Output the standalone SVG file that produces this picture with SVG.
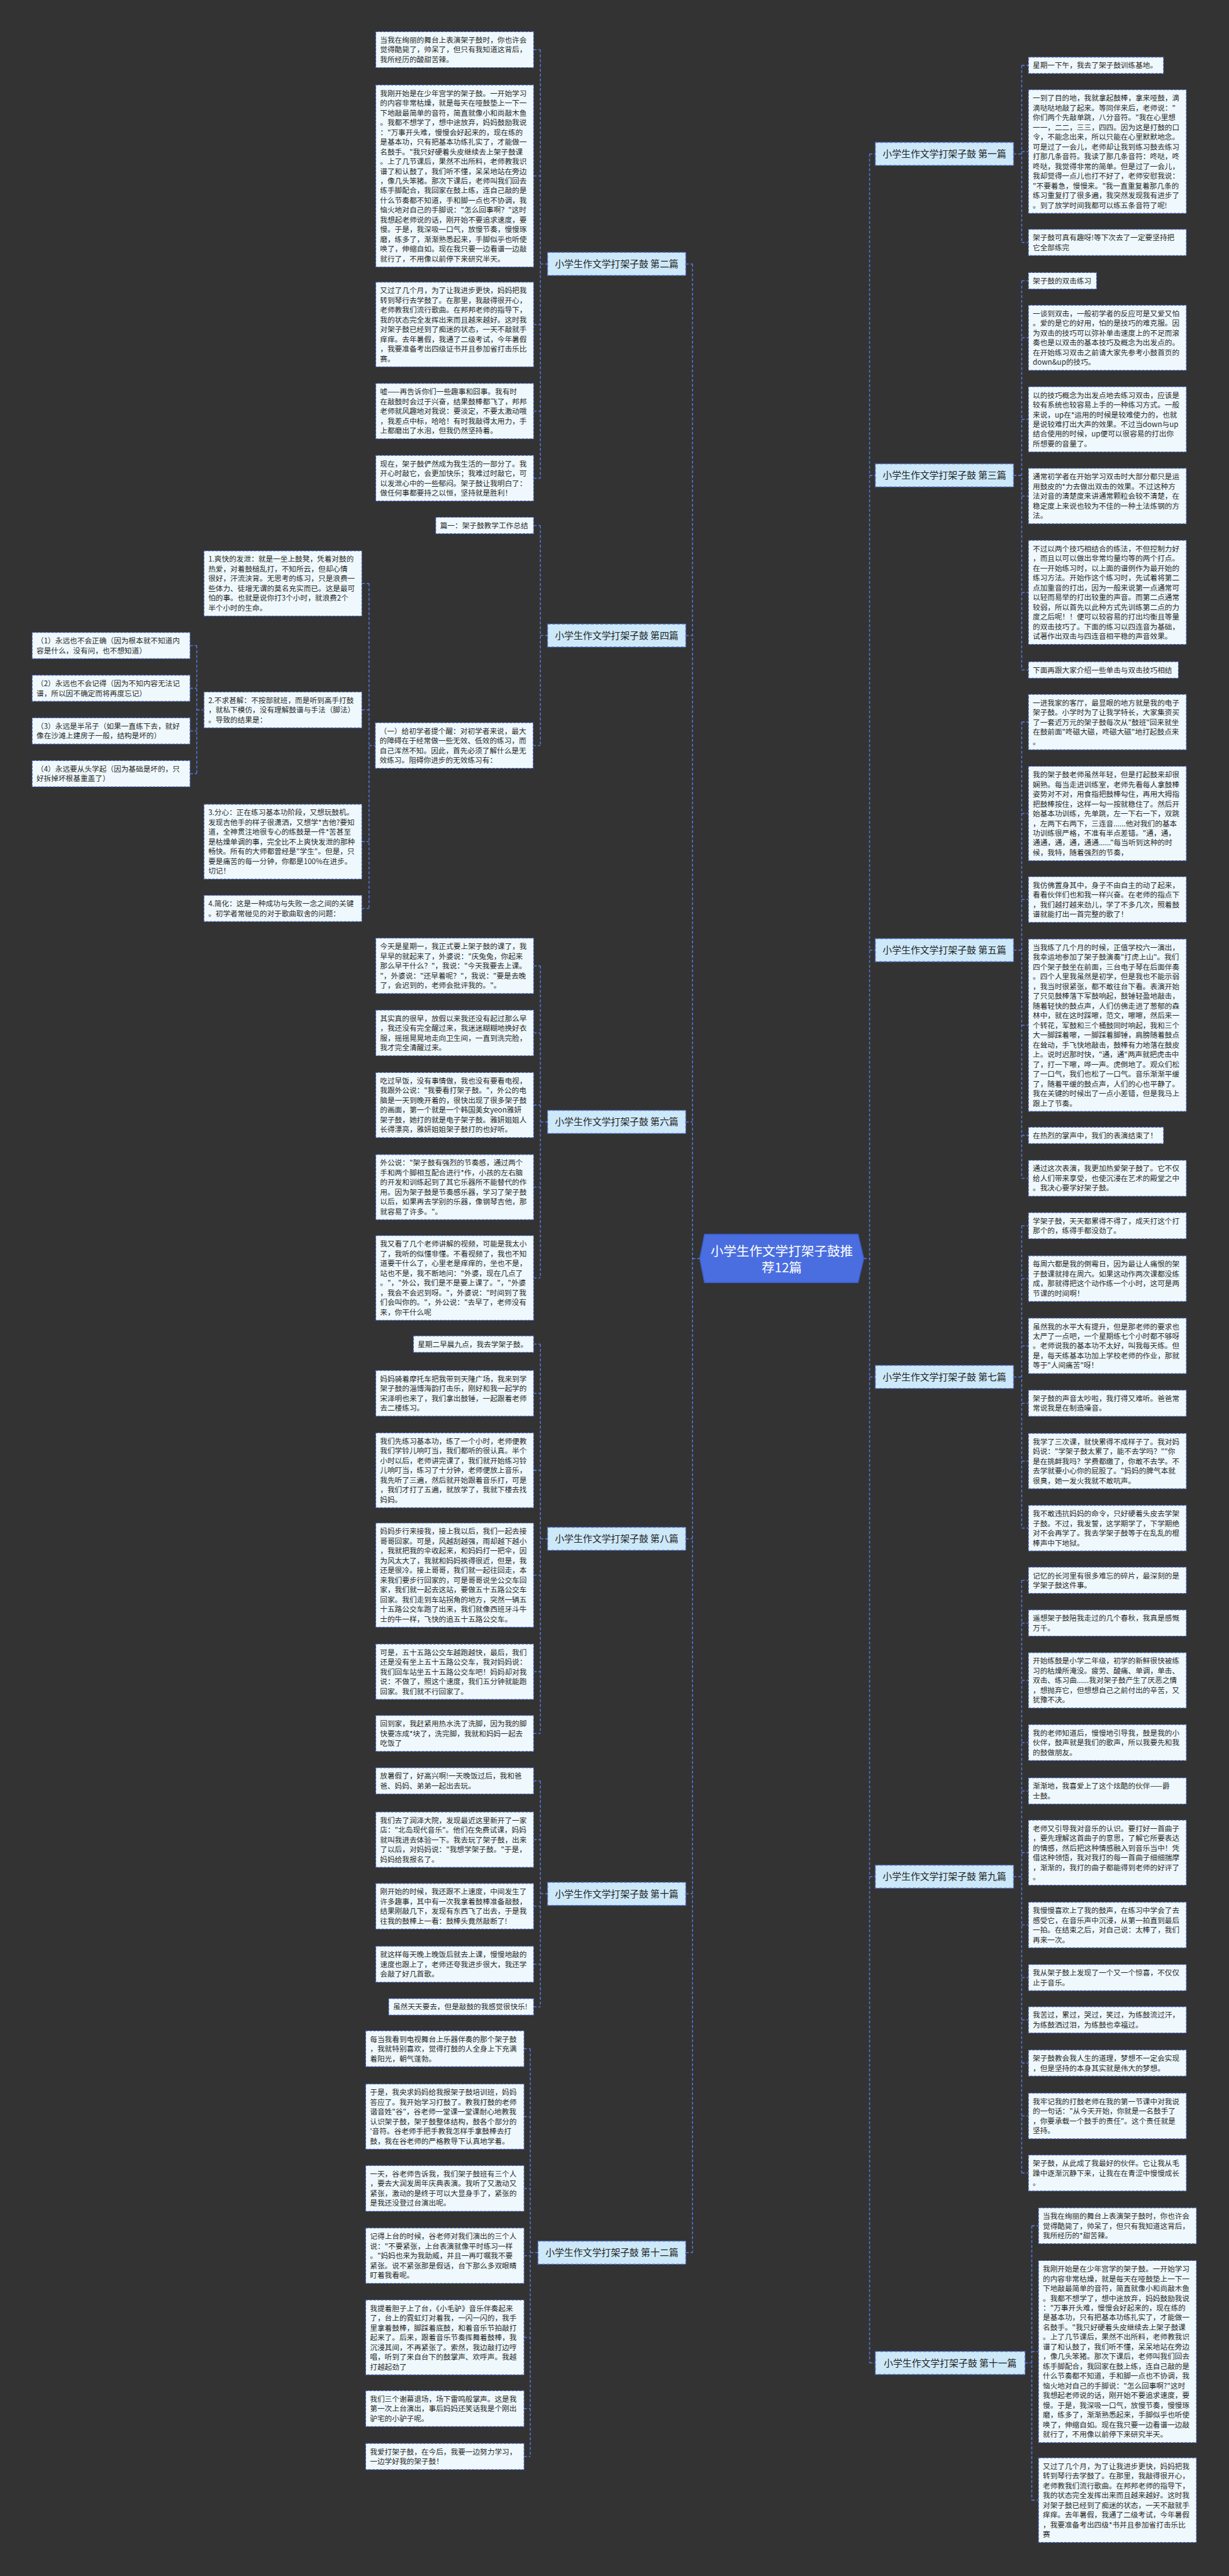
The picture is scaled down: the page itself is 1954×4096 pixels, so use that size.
<svg xmlns="http://www.w3.org/2000/svg" width="1954" height="4096" viewBox="0 0 1954 4096">
<style>
.bx{fill:#eff9fd;stroke:#3c5bbf;stroke-width:1.6;stroke-dasharray:5 3}
.t{font-family:"Noto Sans CJK SC","Noto Sans",sans-serif;font-size:15.3px;fill:#2a2a2a}
.lb{fill:#cde9f9;stroke:#4d6fd8;stroke-width:2;stroke-dasharray:6 4}
.lt{font-family:"Noto Sans CJK SC","Noto Sans",sans-serif;font-size:19.5px;fill:#222;text-anchor:middle}
.cn{fill:none;stroke:#5577dd;stroke-width:2;stroke-dasharray:6 4}
.ct{font-family:"Noto Sans CJK SC","Noto Sans",sans-serif;font-size:27px;fill:#fff;text-anchor:middle}
</style>
<rect x="0" y="0" width="1954" height="4096" fill="#333333"/>
<g transform="scale(0.763)">
<g id="connectors">
<path class="cn" d="M1443 550V4694.4M1429 550H1443M1429 1324.4H1443M1429 2338H1443M1429 3206.8H1443M1429 3946.7H1443M1429 4694.4H1443M1443 2623H1458"/>
<path class="cn" d="M1812 320.7V4924.3M1812 320.7H1824M1812 990.65H1824M1812 1980.1H1824M1812 2869.45H1824M1812 3910.9H1824M1812 4924.3H1824M1800 2623H1812"/>
<path class="cn" d="M1126 103.45V996.6M1112 103.45H1126M1112 366.7H1126M1112 676.2H1126M1112 856.75H1126M1112 996.6H1126M1126 550H1141"/>
<path class="cn" d="M1126 1095.15V1553.6M1112 1095.15H1126M1111 1553.6H1126M1126 1324.4H1141"/>
<path class="cn" d="M769 1215.9V1893.3M754 1215.9H769M754 1479.45H769M754 1754.05H769M754 1893.3H769M769 1553.6H782"/>
<path class="cn" d="M410 1345.3V1612.3M396 1345.3H410M396 1434.3H410M396 1523.3H410M396 1612.3H410M410 1479.45H425"/>
<path class="cn" d="M1126 2012.75V2663.2M1112 2012.75H1126M1112 2152.6H1126M1112 2302.9H1126M1112 2473.9H1126M1112 2663.2H1126M1126 2338H1141"/>
<path class="cn" d="M1126 2801.15V3612.45M1112 2801.15H1126M1112 2903.6H1126M1112 3064.05H1126M1112 3282.5H1126M1112 3483.75H1126M1112 3612.45H1126M1126 3206.8H1141"/>
<path class="cn" d="M1126 3711.3V4182.15M1112 3711.3H1126M1112 3833.75H1126M1112 3972.6H1126M1112 4093.45H1126M1112 4182.15H1126M1126 3946.7H1141"/>
<path class="cn" d="M1105 4269.45V5119.3M1092 4269.45H1105M1092 4410.9H1105M1092 4560.6H1105M1092 4700.75H1105M1092 4871.05H1105M1092 5019.45H1105M1092 5119.3H1105M1105 4694.4H1121"/>
<path class="cn" d="M2129 136.15V505.3M2129 136.15H2143M2129 315.8H2143M2129 505.3H2143M2112 320.7H2129"/>
<path class="cn" d="M2129 585.15V1396.15M2129 585.15H2143M2129 703.9H2143M2129 873.9H2143M2129 1033.75H2143M2129 1234.5H2143M2129 1396.15H2143M2112 990.65H2129"/>
<path class="cn" d="M2129 1504.75V2455.45M2129 1504.75H2143M2129 1695.35H2143M2129 1874.6H2143M2129 2136.55H2143M2129 2366.15H2143M2129 2455.45H2143M2112 1980.1H2129"/>
<path class="cn" d="M2129 2554.3V3184.6M2129 2554.3H2143M2129 2664.6H2143M2129 2804.75H2143M2129 2924.3H2143M2129 3044.75H2143M2129 3184.6H2143M2112 2869.45H2129"/>
<path class="cn" d="M2129 3293.3V4528.45M2129 3293.3H2143M2129 3382.3H2143M2129 3501.75H2143M2129 3631.45H2143M2129 3732.3H2143M2129 3860.9H2143M2129 4011.6H2143M2129 4121.3H2143M2129 4209.3H2143M2129 4299.3H2143M2129 4409.6H2143M2129 4528.45H2143M2112 3910.9H2129"/>
<path class="cn" d="M2150 4638.45V5210.2M2150 4638.45H2164M2150 4900.7H2164M2150 5210.2H2164M2136 4924.3H2150"/>
</g>

<g id="center">
<polygon points="1468,2572 1788,2572 1800,2623 1788,2673 1468,2673 1458,2623" fill="#4a6ee0" stroke="#3b5bc4" stroke-width="2"/>
<text class="ct"><tspan x="1629" y="2617">小学生作文学打架子鼓推</tspan><tspan x="1629" y="2652">荐12篇</tspan></text>
</g>

<g id="label-2"><rect class="lb" x="1141" y="526" width="288" height="48"/><text class="lt" x="1285" y="557">小学生作文学打架子鼓 第二篇</text></g>
<g id="label-4"><rect class="lb" x="1141" y="1300.4" width="288" height="48"/><text class="lt" x="1285" y="1331.4">小学生作文学打架子鼓 第四篇</text></g>
<g id="label-6"><rect class="lb" x="1141" y="2314" width="288" height="48"/><text class="lt" x="1285" y="2345">小学生作文学打架子鼓 第六篇</text></g>
<g id="label-8"><rect class="lb" x="1141" y="3182.8" width="288" height="48"/><text class="lt" x="1285" y="3213.8">小学生作文学打架子鼓 第八篇</text></g>
<g id="label-10"><rect class="lb" x="1141" y="3922.7" width="288" height="48"/><text class="lt" x="1285" y="3953.7">小学生作文学打架子鼓 第十篇</text></g>
<g id="label-12"><rect class="lb" x="1121" y="4670.4" width="308" height="48"/><text class="lt" x="1275" y="4701.4">小学生作文学打架子鼓 第十二篇</text></g>
<g id="label-1"><rect class="lb" x="1824" y="296.7" width="288" height="48"/><text class="lt" x="1968" y="327.7">小学生作文学打架子鼓 第一篇</text></g>
<g id="label-3"><rect class="lb" x="1824" y="966.65" width="288" height="48"/><text class="lt" x="1968" y="997.65">小学生作文学打架子鼓 第三篇</text></g>
<g id="label-5"><rect class="lb" x="1824" y="1956.1" width="288" height="48"/><text class="lt" x="1968" y="1987.1">小学生作文学打架子鼓 第五篇</text></g>
<g id="label-7"><rect class="lb" x="1824" y="2845.45" width="288" height="48"/><text class="lt" x="1968" y="2876.45">小学生作文学打架子鼓 第七篇</text></g>
<g id="label-9"><rect class="lb" x="1824" y="3886.9" width="288" height="48"/><text class="lt" x="1968" y="3917.9">小学生作文学打架子鼓 第九篇</text></g>
<g id="label-11"><rect class="lb" x="1824" y="4900.3" width="312" height="48"/><text class="lt" x="1980" y="4931.3">小学生作文学打架子鼓 第十一篇</text></g>

<g id="n2a"><rect class="bx" x="783" y="66" width="329" height="74.9"/><text class="t"><tspan x="792" y="89">当我在绚丽的舞台上表演架子鼓时，你也许会</tspan><tspan x="792" dy="20.3">觉得酷毙了，帅呆了，但只有我知道这背后，</tspan><tspan x="792" dy="20.3">我所经历的酸甜苦辣。</tspan></text></g>
<g id="n2b"><rect class="bx" x="783" y="177" width="329" height="379.4"/><text class="t"><tspan x="792" y="200">我刚开始是在少年宫学的架子鼓。一开始学习</tspan><tspan x="792" dy="20.3">的内容非常枯燥，就是每天在哑鼓垫上一下一</tspan><tspan x="792" dy="20.3">下地敲最简单的音符，简直就像小和尚敲木鱼</tspan><tspan x="792" dy="20.3">。我都不想学了，想中途放弃，妈妈鼓励我说</tspan><tspan x="792" dy="20.3">："万事开头难，慢慢会好起来的，现在练的</tspan><tspan x="792" dy="20.3">是基本功，只有把基本功练扎实了，才能做一</tspan><tspan x="792" dy="20.3">名鼓手。"我只好硬着头皮继续去上架子鼓课</tspan><tspan x="792" dy="20.3">。上了几节课后，果然不出所料，老师教我识</tspan><tspan x="792" dy="20.3">谱了和认鼓了，我们听不懂，呆呆地站在旁边</tspan><tspan x="792" dy="20.3">，像几头笨猪。那次下课后，老师叫我们回去</tspan><tspan x="792" dy="20.3">练手脚配合，我回家在鼓上练，连自己敲的是</tspan><tspan x="792" dy="20.3">什么节奏都不知道，手和脚一点也不协调，我</tspan><tspan x="792" dy="20.3">恼火地对自己的手脚说："怎么回事啊？"这时</tspan><tspan x="792" dy="20.3">我想起老师说的话，刚开始不要追求速度，要</tspan><tspan x="792" dy="20.3">慢。于是，我深吸一口气，放慢节奏，慢慢琢</tspan><tspan x="792" dy="20.3">磨，练多了，渐渐熟悉起来，手脚似乎也听使</tspan><tspan x="792" dy="20.3">唤了，伸缩自如。现在我只要一边看谱一边敲</tspan><tspan x="792" dy="20.3">就行了，不用像以前停下来研究半天。</tspan></text></g>
<g id="n2c"><rect class="bx" x="783" y="588" width="329" height="176.4"/><text class="t"><tspan x="792" y="611">又过了几个月，为了让我进步更快，妈妈把我</tspan><tspan x="792" dy="20.3">转到琴行去学鼓了。在那里，我敲得很开心，</tspan><tspan x="792" dy="20.3">老师教我们流行歌曲。在邦邦老师的指导下，</tspan><tspan x="792" dy="20.3">我的状态完全发挥出来而且越来越好。这时我</tspan><tspan x="792" dy="20.3">对架子鼓已经到了痴迷的状态，一天不敲就手</tspan><tspan x="792" dy="20.3">痒痒。去年暑假，我通了二级考试，今年暑假</tspan><tspan x="792" dy="20.3">，我要准备考出四级证书并且参加省打击乐比</tspan><tspan x="792" dy="20.3">赛。</tspan></text></g>
<g id="n2d"><rect class="bx" x="783" y="799" width="329" height="115.5"/><text class="t"><tspan x="792" y="822">嘘——再告诉你们一些趣事和囧事。我有时</tspan><tspan x="792" dy="20.3">在敲鼓时会过于兴奋，结果鼓棒都飞了，邦邦</tspan><tspan x="792" dy="20.3">老师就风趣地对我说：要淡定，不要太激动哦</tspan><tspan x="792" dy="20.3">，我差点中标，哈哈！有时我敲得太用力，手</tspan><tspan x="792" dy="20.3">上都磨出了水泡，但我仍然坚持着。</tspan></text></g>
<g id="n2e"><rect class="bx" x="783" y="949" width="329" height="95.2"/><text class="t"><tspan x="792" y="972">现在，架子鼓俨然成为我生活的一部分了。我</tspan><tspan x="792" dy="20.3">开心时敲它，会更加快乐；我难过时敲它，可</tspan><tspan x="792" dy="20.3">以发泄心中的一些郁闷。架子鼓让我明白了：</tspan><tspan x="792" dy="20.3">做任何事都要持之以恒，坚持就是胜利！</tspan></text></g>

<g id="n4a"><rect class="bx" x="908" y="1078" width="204" height="34.3"/><text class="t"><tspan x="917" y="1101">篇一：架子鼓教学工作总结</tspan></text></g>
<g id="n4b"><rect class="bx" x="782" y="1506" width="329" height="95.2"/><text class="t"><tspan x="791" y="1529">（一）给初学者提个醒：对初学者来说，最大</tspan><tspan x="791" dy="20.3">的障碍在于经常做一些无效、低效的练习，而</tspan><tspan x="791" dy="20.3">自己浑然不知。因此，首先必须了解什么是无</tspan><tspan x="791" dy="20.3">效练习。阻碍你进步的无效练习有：</tspan></text></g>
<g id="n4b1"><rect class="bx" x="425" y="1148" width="329" height="135.8"/><text class="t"><tspan x="434" y="1171">1.爽快的发泄：就是一坐上鼓凳，凭着对鼓的</tspan><tspan x="434" dy="20.3">热爱，对着鼓槌乱打，不知所云，但却心情</tspan><tspan x="434" dy="20.3">很好，汗流浃背。无思考的练习，只是浪费一</tspan><tspan x="434" dy="20.3">些体力、徒增无谓的莫名充实而已。这是最可</tspan><tspan x="434" dy="20.3">怕的事。也就是说你打3个小时，就浪费2个</tspan><tspan x="434" dy="20.3">半个小时的生命。</tspan></text></g>
<g id="n4b2"><rect class="bx" x="425" y="1442" width="329" height="74.9"/><text class="t"><tspan x="434" y="1465">2.不求甚解：不按部就班，而是听到高手打鼓</tspan><tspan x="434" dy="20.3">，就私下模仿，没有理解鼓谱与手法（脚法）</tspan><tspan x="434" dy="20.3">。导致的结果是：</tspan></text></g>
<g id="n4b3"><rect class="bx" x="425" y="1676" width="329" height="156.1"/><text class="t"><tspan x="434" y="1699">3.分心：正在练习基本功阶段，又想玩鼓机。</tspan><tspan x="434" dy="20.3">发现吉他手的样子很潇洒，又想学*吉他?要知</tspan><tspan x="434" dy="20.3">道，全神贯注地很专心的练鼓是一件*苦甚至</tspan><tspan x="434" dy="20.3">是枯燥单调的事，完全比不上爽快发泄的那种</tspan><tspan x="434" dy="20.3">畅快。所有的大师都曾经是"学生"。但是，只</tspan><tspan x="434" dy="20.3">要是痛苦的每一分钟，你都是100%在进步。</tspan><tspan x="434" dy="20.3">切记！</tspan></text></g>
<g id="n4b4"><rect class="bx" x="425" y="1866" width="329" height="54.6"/><text class="t"><tspan x="434" y="1889">4.简化：这是一种成功与失败一念之间的关键</tspan><tspan x="434" dy="20.3">。初学者常碰见的对于歌曲取舍的问题：</tspan></text></g>
<g id="n4p1"><rect class="bx" x="67" y="1318" width="329" height="54.6"/><text class="t"><tspan x="76" y="1341">（1）永远也不会正确（因为根本就不知道内</tspan><tspan x="76" dy="20.3">容是什么，没有问，也不想知道）</tspan></text></g>
<g id="n4p2"><rect class="bx" x="67" y="1407" width="329" height="54.6"/><text class="t"><tspan x="76" y="1430">（2）永远也不会记得（因为不知内容无法记</tspan><tspan x="76" dy="20.3">谱，所以因不确定而将再度忘记）</tspan></text></g>
<g id="n4p3"><rect class="bx" x="67" y="1496" width="329" height="54.6"/><text class="t"><tspan x="76" y="1519">（3）永远是半吊子（如果一直练下去，就好</tspan><tspan x="76" dy="20.3">像在沙滩上建房子一般，结构是坏的）</tspan></text></g>
<g id="n4p4"><rect class="bx" x="67" y="1585" width="329" height="54.6"/><text class="t"><tspan x="76" y="1608">（4）永远要从头学起（因为基础是坏的，只</tspan><tspan x="76" dy="20.3">好拆掉坏根基重盖了）</tspan></text></g>

<g id="n6a"><rect class="bx" x="783" y="1955" width="329" height="115.5"/><text class="t"><tspan x="792" y="1978">今天是星期一，我正式要上架子鼓的课了，我</tspan><tspan x="792" dy="20.3">早早的就起来了，外婆说："庆兔兔，你起来</tspan><tspan x="792" dy="20.3">那么早干什么？"，我说："今天我要去上课。</tspan><tspan x="792" dy="20.3">"，外婆说："还早着呢？"，我说："要是去晚</tspan><tspan x="792" dy="20.3">了，会迟到的，老师会批评我的。"。</tspan></text></g>
<g id="n6b"><rect class="bx" x="783" y="2105" width="329" height="95.2"/><text class="t"><tspan x="792" y="2128">其实真的很早，放假以来我还没有起过那么早</tspan><tspan x="792" dy="20.3">，我还没有完全醒过来，我迷迷糊糊地换好衣</tspan><tspan x="792" dy="20.3">服，摇摇晃晃地走向卫生间，一直到洗完脸，</tspan><tspan x="792" dy="20.3">我才完全清醒过来。</tspan></text></g>
<g id="n6c"><rect class="bx" x="783" y="2235" width="329" height="135.8"/><text class="t"><tspan x="792" y="2258">吃过早饭，没有事情做，我也没有要看电视，</tspan><tspan x="792" dy="20.3">我跟外公说："我要看打架子鼓。"，外公的电</tspan><tspan x="792" dy="20.3">脑是一天到晚开着的，很快出现了很多架子鼓</tspan><tspan x="792" dy="20.3">的画面，第一个就是一个韩国美女yeon雅妍</tspan><tspan x="792" dy="20.3">架子鼓，她打的就是电子架子鼓。雅妍姐姐人</tspan><tspan x="792" dy="20.3">长得漂亮，雅妍姐姐架子鼓打的也好听。</tspan></text></g>
<g id="n6d"><rect class="bx" x="783" y="2406" width="329" height="135.8"/><text class="t"><tspan x="792" y="2429">外公说："架子鼓有强烈的节奏感，通过两个</tspan><tspan x="792" dy="20.3">手和两个脚相互配合进行*作，小孩的左右脑</tspan><tspan x="792" dy="20.3">的开发和训练起到了其它乐器所不能替代的作</tspan><tspan x="792" dy="20.3">用。因为架子鼓是节奏感乐器，学习了架子鼓</tspan><tspan x="792" dy="20.3">以后，如果再去学别的乐器，像钢琴吉他，那</tspan><tspan x="792" dy="20.3">就容易了许多。"。</tspan></text></g>
<g id="n6e"><rect class="bx" x="783" y="2575" width="329" height="176.4"/><text class="t"><tspan x="792" y="2598">我又看了几个老师讲解的视频，可能是我太小</tspan><tspan x="792" dy="20.3">了，我听的似懂非懂。不看视频了，我也不知</tspan><tspan x="792" dy="20.3">道要干什么了，心里老是痒痒的，坐也不是，</tspan><tspan x="792" dy="20.3">站也不是，我不断地问："外婆，现在几点了</tspan><tspan x="792" dy="20.3">。"，"外公，我们是不是要上课了。"，"外婆</tspan><tspan x="792" dy="20.3">，我会不会迟到呀。"，外婆说："时间到了我</tspan><tspan x="792" dy="20.3">们会叫你的。"，外公说："去早了，老师没有</tspan><tspan x="792" dy="20.3">来，你干什么呢</tspan></text></g>

<g id="n8a"><rect class="bx" x="861.5" y="2784" width="250.5" height="34.3"/><text class="t"><tspan x="870.5" y="2807">星期二早晨九点，我去学架子鼓。</tspan></text></g>
<g id="n8b"><rect class="bx" x="783" y="2856" width="329" height="95.2"/><text class="t"><tspan x="792" y="2879">妈妈骑着摩托车把我带到天隆广场，我来到学</tspan><tspan x="792" dy="20.3">架子鼓的淄博海韵打击乐，刚好和我一起学的</tspan><tspan x="792" dy="20.3">宋泽明也来了，我们拿出鼓锤，一起跟着老师</tspan><tspan x="792" dy="20.3">去二楼练习。</tspan></text></g>
<g id="n8c"><rect class="bx" x="783" y="2986" width="329" height="156.1"/><text class="t"><tspan x="792" y="3009">我们先练习基本功，练了一个小时，老师便教</tspan><tspan x="792" dy="20.3">我们学铃儿响叮当，我们都听的很认真。半个</tspan><tspan x="792" dy="20.3">小时以后，老师讲完课了，我们就开始练习铃</tspan><tspan x="792" dy="20.3">儿响叮当，练习了十分钟，老师便放上音乐，</tspan><tspan x="792" dy="20.3">我先听了三遍，然后就开始跟着音乐打，可是</tspan><tspan x="792" dy="20.3">，我们才打了五遍，就放学了，我就下楼去找</tspan><tspan x="792" dy="20.3">妈妈。</tspan></text></g>
<g id="n8d"><rect class="bx" x="783" y="3174" width="329" height="217"/><text class="t"><tspan x="792" y="3197">妈妈步行来接我，接上我以后，我们一起去接</tspan><tspan x="792" dy="20.3">哥哥回家。可是，风越刮越强，雨却越下越小</tspan><tspan x="792" dy="20.3">，我就把我的伞收起来，和妈妈打一把伞，因</tspan><tspan x="792" dy="20.3">为风太大了，我就和妈妈挨得很近，但是，我</tspan><tspan x="792" dy="20.3">还是很冷。接上哥哥，我们就一起往回走，本</tspan><tspan x="792" dy="20.3">来我们要步行回家的，可是哥哥说坐公交车回</tspan><tspan x="792" dy="20.3">家，我们就一起去这站，要做五十五路公交车</tspan><tspan x="792" dy="20.3">回家。我们走到车站拐角的地方，突然一辆五</tspan><tspan x="792" dy="20.3">十五路公交车跑了出来，我们就像西班牙斗牛</tspan><tspan x="792" dy="20.3">士的牛一样，飞快的追五十五路公交车。</tspan></text></g>
<g id="n8e"><rect class="bx" x="783" y="3426" width="329" height="115.5"/><text class="t"><tspan x="792" y="3449">可是，五十五路公交车越跑越快，最后，我们</tspan><tspan x="792" dy="20.3">还是没有坐上五十五路公交车，我对妈妈说：</tspan><tspan x="792" dy="20.3">我们回车站坐五十五路公交车吧！妈妈却对我</tspan><tspan x="792" dy="20.3">说：不做了，照这个速度，我们五分钟就能跑</tspan><tspan x="792" dy="20.3">回家。我们就不行回家了。</tspan></text></g>
<g id="n8f"><rect class="bx" x="783" y="3575" width="329" height="74.9"/><text class="t"><tspan x="792" y="3598">回到家，我赶紧用热水洗了洗脚，因为我的脚</tspan><tspan x="792" dy="20.3">快要冻成*块了，洗完脚，我就和妈妈一起去</tspan><tspan x="792" dy="20.3">吃饭了</tspan></text></g>

<g id="n10a"><rect class="bx" x="783" y="3684" width="329" height="54.6"/><text class="t"><tspan x="792" y="3707">放暑假了，好高兴啊!一天晚饭过后，我和爸</tspan><tspan x="792" dy="20.3">爸、妈妈、弟弟一起出去玩。</tspan></text></g>
<g id="n10b"><rect class="bx" x="783" y="3776" width="329" height="115.5"/><text class="t"><tspan x="792" y="3799">我们去了润泽大院，发现最近这里新开了一家</tspan><tspan x="792" dy="20.3">店："北岛现代音乐"。他们在免费试课，妈妈</tspan><tspan x="792" dy="20.3">就叫我进去体验一下。我去玩了架子鼓，出来</tspan><tspan x="792" dy="20.3">了以后，对妈妈说："我想学架子鼓。"于是，</tspan><tspan x="792" dy="20.3">妈妈给我报名了。</tspan></text></g>
<g id="n10c"><rect class="bx" x="783" y="3925" width="329" height="95.2"/><text class="t"><tspan x="792" y="3948">刚开始的时候，我还跟不上速度，中间发生了</tspan><tspan x="792" dy="20.3">许多趣事，其中有一次我拿着鼓棒准备敲鼓，</tspan><tspan x="792" dy="20.3">结果刚敲几下，发现有东西飞了出去，于是我</tspan><tspan x="792" dy="20.3">往我的鼓棒上一看：鼓棒头竟然敲断了!</tspan></text></g>
<g id="n10d"><rect class="bx" x="783" y="4056" width="329" height="74.9"/><text class="t"><tspan x="792" y="4079">就这样每天晚上晚饭后就去上课，慢慢地敲的</tspan><tspan x="792" dy="20.3">速度也跟上了，老师还夸我进步很大，我还学</tspan><tspan x="792" dy="20.3">会敲了好几首歌。</tspan></text></g>
<g id="n10e"><rect class="bx" x="810" y="4165" width="302" height="34.3"/><text class="t"><tspan x="819" y="4188">虽然天天要去，但是敲鼓的我感觉很快乐!</tspan></text></g>

<g id="n12a"><rect class="bx" x="762" y="4232" width="330" height="74.9"/><text class="t"><tspan x="771" y="4255">每当我看到电视舞台上乐器伴奏的那个架子鼓</tspan><tspan x="771" dy="20.3">，我就特别喜欢，觉得打鼓的人全身上下充满</tspan><tspan x="771" dy="20.3">着阳光，朝气蓬勃。</tspan></text></g>
<g id="n12b"><rect class="bx" x="762" y="4343" width="330" height="135.8"/><text class="t"><tspan x="771" y="4366">于是，我央求妈妈给我报架子鼓培训班，妈妈</tspan><tspan x="771" dy="20.3">答应了。我开始学习打鼓了。教我打鼓的老师</tspan><tspan x="771" dy="20.3">谐音姓"谷"，谷老师一堂课一堂课耐心地教我</tspan><tspan x="771" dy="20.3">认识架子鼓，架子鼓整体结构，鼓各个部分的</tspan><tspan x="771" dy="20.3">'音符。谷老师手把手教我怎样手拿鼓棒去打</tspan><tspan x="771" dy="20.3">鼓，我在谷老师的严格教导下认真地学着。</tspan></text></g>
<g id="n12c"><rect class="bx" x="762" y="4513" width="330" height="95.2"/><text class="t"><tspan x="771" y="4536">一天，谷老师告诉我，我们架子鼓班有三个人</tspan><tspan x="771" dy="20.3">，要去大润发周年庆典表演。我听了又激动又</tspan><tspan x="771" dy="20.3">紧张，激动的是终于可以大显身手了，紧张的</tspan><tspan x="771" dy="20.3">是我还没登过台演出呢。</tspan></text></g>
<g id="n12d"><rect class="bx" x="762" y="4643" width="330" height="115.5"/><text class="t"><tspan x="771" y="4666">记得上台的时候，谷老师对我们演出的三个人</tspan><tspan x="771" dy="20.3">说："不要紧张，上台表演就像平时练习一样</tspan><tspan x="771" dy="20.3">。"妈妈也来为我助威，并且一再叮嘱我不要</tspan><tspan x="771" dy="20.3">紧张。说不紧张那是假话，台下那么多双眼睛</tspan><tspan x="771" dy="20.3">盯着我看呢。</tspan></text></g>
<g id="n12e"><rect class="bx" x="762" y="4793" width="330" height="156.1"/><text class="t"><tspan x="771" y="4816">我提着胆子上了台，《小毛驴》音乐伴奏起来</tspan><tspan x="771" dy="20.3">了，台上的霓虹灯对着我，一闪一闪的，我手</tspan><tspan x="771" dy="20.3">里拿着鼓棒，脚踩着底鼓，和着音乐节拍敲打</tspan><tspan x="771" dy="20.3">起来了。后来，跟着音乐节奏挥舞着鼓棒，我</tspan><tspan x="771" dy="20.3">沉浸其间，不再紧张了。索然，我边敲打边哼</tspan><tspan x="771" dy="20.3">唱，听到了来自台下的鼓掌声、欢呼声。我越</tspan><tspan x="771" dy="20.3">打越起劲了</tspan></text></g>
<g id="n12f"><rect class="bx" x="762" y="4982" width="330" height="74.9"/><text class="t"><tspan x="771" y="5005">我们三个谢幕退场，场下雷鸣般掌声。这是我</tspan><tspan x="771" dy="20.3">第一次上台演出，事后妈妈还笑话我是个刚出</tspan><tspan x="771" dy="20.3">驴宅的小驴子呢。</tspan></text></g>
<g id="n12g"><rect class="bx" x="762" y="5092" width="330" height="54.6"/><text class="t"><tspan x="771" y="5115">我爱打架子鼓，在今后，我要一边努力学习，</tspan><tspan x="771" dy="20.3">一边学好我的架子鼓！</tspan></text></g>

<g id="n1a"><rect class="bx" x="2143" y="119" width="281.5" height="34.3"/><text class="t"><tspan x="2152" y="142">星期一下午，我去了架子鼓训练基地。</tspan></text></g>
<g id="n1b"><rect class="bx" x="2143" y="187" width="329" height="257.6"/><text class="t"><tspan x="2152" y="210">一到了目的地，我就拿起鼓棒，拿来哑鼓，滴</tspan><tspan x="2152" dy="20.3">滴哒哒地敲了起来。等同伴来后，老师说："</tspan><tspan x="2152" dy="20.3">你们两个先敲单跳，八分音符。"我在心里想</tspan><tspan x="2152" dy="20.3">一一，二二，三三，四四。因为这是打鼓的口</tspan><tspan x="2152" dy="20.3">令，不能念出来，所以只能在心里默默地念。</tspan><tspan x="2152" dy="20.3">可是过了一会儿，老师却让我到练习鼓去练习</tspan><tspan x="2152" dy="20.3">打那几条音符。我读了那几条音符：咚哒，咚</tspan><tspan x="2152" dy="20.3">咚哒，我觉得非常的简单。但是过了一会儿，</tspan><tspan x="2152" dy="20.3">我却觉得一点儿也打不好了，老师安慰我说：</tspan><tspan x="2152" dy="20.3">"不要着急，慢慢来。"我一直重复着那几条的</tspan><tspan x="2152" dy="20.3">练习重复打了很多遍，我突然发现我有进步了</tspan><tspan x="2152" dy="20.3">。到了放学时间我都可以练五条音符了呢!</tspan></text></g>
<g id="n1c"><rect class="bx" x="2143" y="478" width="329" height="54.6"/><text class="t"><tspan x="2152" y="501">架子鼓可真有趣呀!等下次去了一定要坚持把</tspan><tspan x="2152" dy="20.3">它全部练完</tspan></text></g>

<g id="n3a"><rect class="bx" x="2143" y="568" width="142" height="34.3"/><text class="t"><tspan x="2152" y="591">架子鼓的双击练习</tspan></text></g>
<g id="n3b"><rect class="bx" x="2143" y="636" width="329" height="135.8"/><text class="t"><tspan x="2152" y="659">一谈到双击，一般初学者的反应可是又爱又怕</tspan><tspan x="2152" dy="20.3">。爱的是它的好用，怕的是技巧的难克服。因</tspan><tspan x="2152" dy="20.3">为双击的技巧可以弥补单击速度上的不足而滚</tspan><tspan x="2152" dy="20.3">奏也是以双击的基本技巧及概念为出发点的。</tspan><tspan x="2152" dy="20.3">在开始练习双击之前请大家先参考小鼓首页的</tspan><tspan x="2152" dy="20.3">down&amp;up的技巧。</tspan></text></g>
<g id="n3c"><rect class="bx" x="2143" y="806" width="329" height="135.8"/><text class="t"><tspan x="2152" y="829">以的技巧概念为出发点地去练习双击，应该是</tspan><tspan x="2152" dy="20.3">较有系统也较容易上手的一种练习方式。一般</tspan><tspan x="2152" dy="20.3">来说，up在*运用的时候是较难使力的，也就</tspan><tspan x="2152" dy="20.3">是说较难打出大声的效果。不过当down与up</tspan><tspan x="2152" dy="20.3">结合使用的时候，up便可以很容易的打出你</tspan><tspan x="2152" dy="20.3">所想要的音量了。</tspan></text></g>
<g id="n3d"><rect class="bx" x="2143" y="976" width="329" height="115.5"/><text class="t"><tspan x="2152" y="999">通常初学者在开始学习双击时大部分都只是运</tspan><tspan x="2152" dy="20.3">用鼓皮的*力去做出双击的效果。不过这种方</tspan><tspan x="2152" dy="20.3">法对音的清楚度来讲通常颗粒会较不清楚，在</tspan><tspan x="2152" dy="20.3">稳定度上来说也较为不佳的一种土法炼钢的方</tspan><tspan x="2152" dy="20.3">法。</tspan></text></g>
<g id="n3e"><rect class="bx" x="2143" y="1126" width="329" height="217"/><text class="t"><tspan x="2152" y="1149">不过以两个技巧相结合的练法，不但控制力好</tspan><tspan x="2152" dy="20.3">，而且以可以做出非常均量均等的两个打点。</tspan><tspan x="2152" dy="20.3">在一开始练习时，以上面的谱例作为最开始的</tspan><tspan x="2152" dy="20.3">练习方法。开始作这个练习时，先试着将第二</tspan><tspan x="2152" dy="20.3">点加重音的打出，因为一般来说第一点通常可</tspan><tspan x="2152" dy="20.3">以轻而易举的打出较重的声音。而第二点通常</tspan><tspan x="2152" dy="20.3">较弱，所以首先以此种方式先训练第二点的力</tspan><tspan x="2152" dy="20.3">度之后呢！！便可以较容易的打出均衡且等量</tspan><tspan x="2152" dy="20.3">的双击技巧了。下面的练习以四连音为基础，</tspan><tspan x="2152" dy="20.3">试著作出双击与四连音相平稳的声音效果。</tspan></text></g>
<g id="n3f"><rect class="bx" x="2143" y="1379" width="312.5" height="34.3"/><text class="t"><tspan x="2152" y="1402">下面再跟大家介绍一些单击与双击技巧相结</tspan></text></g>

<g id="n5a"><rect class="bx" x="2143" y="1447" width="329" height="115.5"/><text class="t"><tspan x="2152" y="1470">一进我家的客厅，最显眼的地方就是我的电子</tspan><tspan x="2152" dy="20.3">架子鼓。小学时为了让我学特长，大家集资买</tspan><tspan x="2152" dy="20.3">了一套近万元的架子鼓每次从"鼓班"回来就坐</tspan><tspan x="2152" dy="20.3">在鼓前面"咚磁大磁，咚磁大磁"地打起鼓点来</tspan><tspan x="2152" dy="20.3">。</tspan></text></g>
<g id="n5b"><rect class="bx" x="2143" y="1597" width="329" height="196.7"/><text class="t"><tspan x="2152" y="1620">我的架子鼓老师虽然年轻，但是打起鼓来却很</tspan><tspan x="2152" dy="20.3">娴熟。每当走进训练室，老师先看每人拿鼓棒</tspan><tspan x="2152" dy="20.3">姿势对不对，用食指把鼓棒勾住，再用大拇指</tspan><tspan x="2152" dy="20.3">把鼓棒按住，这样一勾一按就稳住了。然后开</tspan><tspan x="2152" dy="20.3">始基本功训练，先单跳，左一下右一下，双跳</tspan><tspan x="2152" dy="20.3">，左两下右两下，三连音......他对我们的基本</tspan><tspan x="2152" dy="20.3">功训练很严格，不准有半点差错。"通，通，</tspan><tspan x="2152" dy="20.3">通通，通，通，通通......"每当听到这种的时</tspan><tspan x="2152" dy="20.3">候，我特，随着强烈的节奏，</tspan></text></g>
<g id="n5c"><rect class="bx" x="2143" y="1827" width="329" height="95.2"/><text class="t"><tspan x="2152" y="1850">我仿佛置身其中，身子不由自主的动了起来，</tspan><tspan x="2152" dy="20.3">看看伙伴们也和我一样兴奋。在老师的指点下</tspan><tspan x="2152" dy="20.3">，我们越打越来劲儿，学了不多几次，照着鼓</tspan><tspan x="2152" dy="20.3">谱就能打出一首完整的歌了！</tspan></text></g>
<g id="n5d"><rect class="bx" x="2143" y="1957" width="329" height="359.1"/><text class="t"><tspan x="2152" y="1980">当我练了几个月的时候，正值学校六一演出，</tspan><tspan x="2152" dy="20.3">我幸运地参加了架子鼓演奏"打虎上山"。我们</tspan><tspan x="2152" dy="20.3">四个架子鼓坐在前面，三台电子琴在后面伴奏</tspan><tspan x="2152" dy="20.3">。四个人里我虽然是初学，但是我也不能示弱</tspan><tspan x="2152" dy="20.3">，我当时很紧张，都不敢往台下看。表演开始</tspan><tspan x="2152" dy="20.3">了只见鼓棒落下军鼓响起，鼓锤轻盈地敲击，</tspan><tspan x="2152" dy="20.3">随着轻快的鼓点声，人们仿佛走进了葱郁的森</tspan><tspan x="2152" dy="20.3">林中，就在这时踩嚓，范文，嚓嚓，然后来一</tspan><tspan x="2152" dy="20.3">个转花，军鼓和三个桶鼓同时响起，我和三个</tspan><tspan x="2152" dy="20.3">大一脚踩着嚓，一脚踩着脚锤，肩膀随着鼓点</tspan><tspan x="2152" dy="20.3">在耸动，手飞快地敲击，鼓棒有力地落在鼓皮</tspan><tspan x="2152" dy="20.3">上。说时迟那时快，"通，通"两声就把虎击中</tspan><tspan x="2152" dy="20.3">了，打一下嚓，哗一声。虎倒地了。观众们松</tspan><tspan x="2152" dy="20.3">了一口气，我们也松了一口气。音乐渐渐平缓</tspan><tspan x="2152" dy="20.3">了，随着平缓的鼓点声，人们的心也平静了。</tspan><tspan x="2152" dy="20.3">我在关键的时候出了一点小差错，但是我马上</tspan><tspan x="2152" dy="20.3">跟上了节奏。</tspan></text></g>
<g id="n5e"><rect class="bx" x="2143" y="2349" width="281.5" height="34.3"/><text class="t"><tspan x="2152" y="2372">在热烈的掌声中，我们的表演结束了！</tspan></text></g>
<g id="n5f"><rect class="bx" x="2143" y="2418" width="329" height="74.9"/><text class="t"><tspan x="2152" y="2441">通过这次表演，我更加热爱架子鼓了。它不仅</tspan><tspan x="2152" dy="20.3">给人们带来享受，也使沉浸在艺术的殿堂之中</tspan><tspan x="2152" dy="20.3">。我决心要学好架子鼓。</tspan></text></g>

<g id="n7a"><rect class="bx" x="2143" y="2527" width="329" height="54.6"/><text class="t"><tspan x="2152" y="2550">学架子鼓，天天都累得不得了，成天打这个打</tspan><tspan x="2152" dy="20.3">那个的，练得手都没劲了。</tspan></text></g>
<g id="n7b"><rect class="bx" x="2143" y="2617" width="329" height="95.2"/><text class="t"><tspan x="2152" y="2640">每周六都是我的倒霉日，因为最让人痛恨的架</tspan><tspan x="2152" dy="20.3">子鼓课就排在周六。如果这动作两次课都没练</tspan><tspan x="2152" dy="20.3">成，那就得把这个动作练一个小时，这可是两</tspan><tspan x="2152" dy="20.3">节课的时间啊！</tspan></text></g>
<g id="n7c"><rect class="bx" x="2143" y="2747" width="329" height="115.5"/><text class="t"><tspan x="2152" y="2770">虽然我的水平大有提升，但是那老师的要求也</tspan><tspan x="2152" dy="20.3">太严了一点吧，一个星期练七个小时都不够呀</tspan><tspan x="2152" dy="20.3">。老师说我的基本功不太好，叫我每天练。但</tspan><tspan x="2152" dy="20.3">是，每天练基本功加上学校老师的作业，那就</tspan><tspan x="2152" dy="20.3">等于"人间痛苦"呀！</tspan></text></g>
<g id="n7d"><rect class="bx" x="2143" y="2897" width="329" height="54.6"/><text class="t"><tspan x="2152" y="2920">架子鼓的声音太吵啦，我打得又难听。爸爸常</tspan><tspan x="2152" dy="20.3">常说我是在制造噪音。</tspan></text></g>
<g id="n7e"><rect class="bx" x="2143" y="2987" width="329" height="115.5"/><text class="t"><tspan x="2152" y="3010">我学了三次课，就快累得不成样子了。我对妈</tspan><tspan x="2152" dy="20.3">妈说："学架子鼓太累了，能不去学吗？""你</tspan><tspan x="2152" dy="20.3">是在挑衅我吗？学费都缴了，你敢不去学。不</tspan><tspan x="2152" dy="20.3">去学就要小心你的屁股了。"妈妈的脾气本就</tspan><tspan x="2152" dy="20.3">很臭，她一发火我就不敢吭声。</tspan></text></g>
<g id="n7f"><rect class="bx" x="2143" y="3137" width="329" height="95.2"/><text class="t"><tspan x="2152" y="3160">我不敢违抗妈妈的命令，只好硬着头皮去学架</tspan><tspan x="2152" dy="20.3">子鼓。不过，我发誓，这学期学了，下学期绝</tspan><tspan x="2152" dy="20.3">对不会再学了。我去学架子鼓等于在乱乱的棍</tspan><tspan x="2152" dy="20.3">棒声中下地狱。</tspan></text></g>

<g id="n9a"><rect class="bx" x="2143" y="3266" width="329" height="54.6"/><text class="t"><tspan x="2152" y="3289">记忆的长河里有很多难忘的碎片，最深刻的是</tspan><tspan x="2152" dy="20.3">学架子鼓这件事。</tspan></text></g>
<g id="n9b"><rect class="bx" x="2143" y="3355" width="329" height="54.6"/><text class="t"><tspan x="2152" y="3378">遥想架子鼓陪我走过的几个春秋，我真是感慨</tspan><tspan x="2152" dy="20.3">万千。</tspan></text></g>
<g id="n9c"><rect class="bx" x="2143" y="3444" width="329" height="115.5"/><text class="t"><tspan x="2152" y="3467">开始练鼓是小学二年级，初学的新鲜很快被练</tspan><tspan x="2152" dy="20.3">习的枯燥所淹没。疲劳、酸痛、单调，单击、</tspan><tspan x="2152" dy="20.3">双击、练习曲......我对架子鼓产生了厌恶之情</tspan><tspan x="2152" dy="20.3">，想抛弃它，但想想自己之前付出的辛苦，又</tspan><tspan x="2152" dy="20.3">犹豫不决。</tspan></text></g>
<g id="n9d"><rect class="bx" x="2143" y="3594" width="329" height="74.9"/><text class="t"><tspan x="2152" y="3617">我的老师知道后，慢慢地引导我，鼓是我的小</tspan><tspan x="2152" dy="20.3">伙伴，鼓声就是我们的歌声，所以我要先和我</tspan><tspan x="2152" dy="20.3">的鼓做朋友。</tspan></text></g>
<g id="n9e"><rect class="bx" x="2143" y="3705" width="329" height="54.6"/><text class="t"><tspan x="2152" y="3728">渐渐地，我喜爱上了这个炫酷的伙伴——爵</tspan><tspan x="2152" dy="20.3">士鼓。</tspan></text></g>
<g id="n9f"><rect class="bx" x="2143" y="3793" width="329" height="135.8"/><text class="t"><tspan x="2152" y="3816">老师又引导我对音乐的认识。要打好一首曲子</tspan><tspan x="2152" dy="20.3">，要先理解这首曲子的意思，了解它所要表达</tspan><tspan x="2152" dy="20.3">的情感，然后把这种情感融入到音乐当中！凭</tspan><tspan x="2152" dy="20.3">借这种领悟，我对我打的每一首曲子细细揣摩</tspan><tspan x="2152" dy="20.3">，渐渐的，我打的曲子都能得到老师的好评了</tspan><tspan x="2152" dy="20.3">。</tspan></text></g>
<g id="n9g"><rect class="bx" x="2143" y="3964" width="329" height="95.2"/><text class="t"><tspan x="2152" y="3987">我慢慢喜欢上了我的鼓声，在练习中学会了去</tspan><tspan x="2152" dy="20.3">感受它，在音乐声中沉浸，从第一拍直到最后</tspan><tspan x="2152" dy="20.3">一拍。在结束之后，对自己说：太棒了，我们</tspan><tspan x="2152" dy="20.3">再来一次。</tspan></text></g>
<g id="n9h"><rect class="bx" x="2143" y="4094" width="329" height="54.6"/><text class="t"><tspan x="2152" y="4117">我从架子鼓上发现了一个又一个惊喜，不仅仅</tspan><tspan x="2152" dy="20.3">止于音乐。</tspan></text></g>
<g id="n9i"><rect class="bx" x="2143" y="4182" width="329" height="54.6"/><text class="t"><tspan x="2152" y="4205">我苦过，累过，哭过，笑过，为练鼓流过汗，</tspan><tspan x="2152" dy="20.3">为练鼓洒过泪，为练鼓也幸福过。</tspan></text></g>
<g id="n9j"><rect class="bx" x="2143" y="4272" width="329" height="54.6"/><text class="t"><tspan x="2152" y="4295">架子鼓教会我人生的道理，梦想不一定会实现</tspan><tspan x="2152" dy="20.3">，但是坚持的本身其实就是伟大的梦想。</tspan></text></g>
<g id="n9k"><rect class="bx" x="2143" y="4362" width="329" height="95.2"/><text class="t"><tspan x="2152" y="4385">我牢记我的打鼓老师在我的第一节课中对我说</tspan><tspan x="2152" dy="20.3">的一句话："从今天开始，你就是一名鼓手了</tspan><tspan x="2152" dy="20.3">，你要承载一个鼓手的责任"。这个责任就是</tspan><tspan x="2152" dy="20.3">坚持。</tspan></text></g>
<g id="n9l"><rect class="bx" x="2143" y="4491" width="329" height="74.9"/><text class="t"><tspan x="2152" y="4514">架子鼓，从此成了我最好的伙伴。它让我从毛</tspan><tspan x="2152" dy="20.3">躁中逐渐沉静下来，让我在在青涩中慢慢成长</tspan><tspan x="2152" dy="20.3">。</tspan></text></g>

<g id="n11a"><rect class="bx" x="2164" y="4601" width="329" height="74.9"/><text class="t"><tspan x="2173" y="4624">当我在绚丽的舞台上表演架子鼓时，你也许会</tspan><tspan x="2173" dy="20.3">觉得酷毙了，帅呆了，但只有我知道这背后，</tspan><tspan x="2173" dy="20.3">我所经历的*甜苦辣。</tspan></text></g>
<g id="n11b"><rect class="bx" x="2164" y="4711" width="329" height="379.4"/><text class="t"><tspan x="2173" y="4734">我刚开始是在少年宫学的架子鼓。一开始学习</tspan><tspan x="2173" dy="20.3">的内容非常枯燥，就是每天在哑鼓垫上一下一</tspan><tspan x="2173" dy="20.3">下地敲最简单的音符，简直就像小和尚敲木鱼</tspan><tspan x="2173" dy="20.3">。我都不想学了，想中途放弃，妈妈鼓励我说</tspan><tspan x="2173" dy="20.3">："万事开头难，慢慢会好起来的，现在练的</tspan><tspan x="2173" dy="20.3">是基本功，只有把基本功练扎实了，才能做一</tspan><tspan x="2173" dy="20.3">名鼓手。"我只好硬着头皮继续去上架子鼓课</tspan><tspan x="2173" dy="20.3">。上了几节课后，果然不出所料，老师教我识</tspan><tspan x="2173" dy="20.3">谱了和认鼓了，我们听不懂，呆呆地站在旁边</tspan><tspan x="2173" dy="20.3">，像几头笨猪。那次下课后，老师叫我们回去</tspan><tspan x="2173" dy="20.3">练手脚配合，我回家在鼓上练，连自己敲的是</tspan><tspan x="2173" dy="20.3">什么节奏都不知道，手和脚一点也不协调，我</tspan><tspan x="2173" dy="20.3">恼火地对自己的手脚说："怎么回事啊?"这时</tspan><tspan x="2173" dy="20.3">我想起老师说的话，刚开始不要追求速度，要</tspan><tspan x="2173" dy="20.3">慢。于是，我深吸一口气，放慢节奏，慢慢琢</tspan><tspan x="2173" dy="20.3">磨，练多了，渐渐熟悉起来，手脚似乎也听使</tspan><tspan x="2173" dy="20.3">唤了，伸缩自如。现在我只要一边看谱一边敲</tspan><tspan x="2173" dy="20.3">就行了，不用像以前停下来研究半天。</tspan></text></g>
<g id="n11c"><rect class="bx" x="2164" y="5122" width="329" height="176.4"/><text class="t"><tspan x="2173" y="5145">又过了几个月，为了让我进步更快，妈妈把我</tspan><tspan x="2173" dy="20.3">转到琴行去学鼓了。在那里，我敲得很开心，</tspan><tspan x="2173" dy="20.3">老师教我们流行歌曲。在邦邦老师的指导下，</tspan><tspan x="2173" dy="20.3">我的状态完全发挥出来而且越来越好。这时我</tspan><tspan x="2173" dy="20.3">对架子鼓已经到了痴迷的状态，一天不敲就手</tspan><tspan x="2173" dy="20.3">痒痒。去年暑假，我通了二级考试，今年暑假</tspan><tspan x="2173" dy="20.3">，我要准备考出四级*书并且参加省打击乐比</tspan><tspan x="2173" dy="20.3">赛</tspan></text></g>
</g>
</svg>
